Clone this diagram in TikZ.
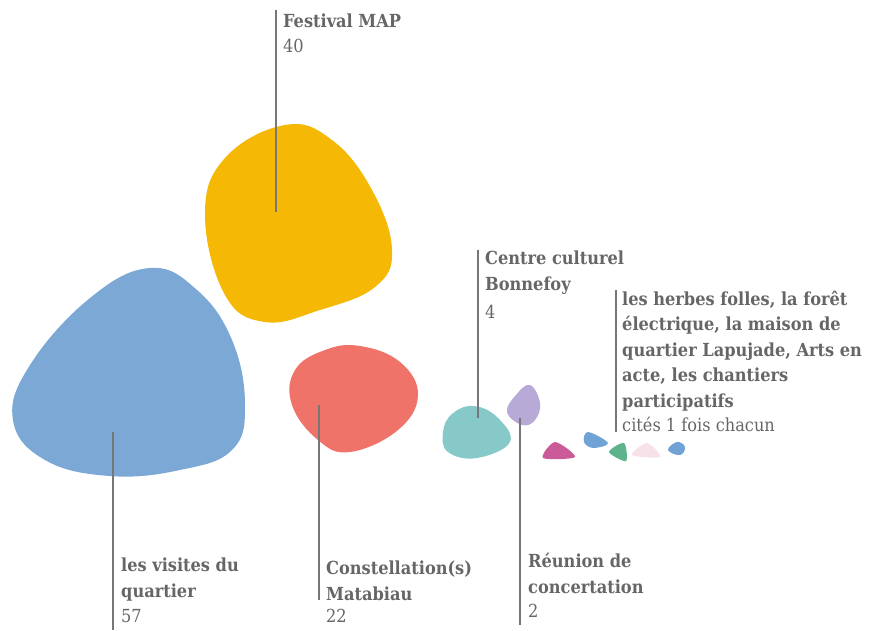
\documentclass[tikz,border=0pt]{standalone}
\usepackage{fontspec}
\setmainfont{DejaVu Serif Condensed}
\definecolor{cblue}{HTML}{7BA8D4}
\definecolor{cyellow}{HTML}{F4B805}
\definecolor{cred}{HTML}{F07369}
\definecolor{cteal}{HTML}{86C9C8}
\definecolor{cpurple}{HTML}{B7AAD6}
\definecolor{cmag}{HTML}{CB5B98}
\definecolor{csblue}{HTML}{70A2D6}
\definecolor{cgreen}{HTML}{5DB38B}
\definecolor{cpink}{HTML}{F8E2EA}
\definecolor{ctext}{HTML}{666666}
\definecolor{cline}{HTML}{777777}
\tikzset{
  blob/.style={draw=none},
  lead/.style={draw=cline, line width=2pt},
  ttl/.style={anchor=base west, inner sep=0pt, text=ctext, font=\fontsize{18}{25.5}\selectfont\bfseries, align=left},
  num/.style={anchor=base west, inner sep=0pt, text=ctext, font=\fontsize{18}{25.5}\selectfont}
}
\begin{document}
\begin{tikzpicture}[x=1pt,y=-1pt]
\useasboundingbox (0,0) rectangle (892,630);
% blobs
\fill[cblue] plot[smooth cycle, tension=0.7] coordinates {(150,268) (197,290) (232,340) (245,405) (232,450) (180,470) (110,476) (45,460) (13,420) (30,365) (90,298)};
\fill[cyellow] plot[smooth cycle, tension=0.7] coordinates {(285,125) (332,140) (372,190) (392,250) (375,287) (320,310) (265,322) (225,295) (205,215) (225,158)};
\fill[cred] plot[smooth cycle, tension=0.7] coordinates {(360,346) (400,362) (418,395) (398,430) (350,452) (318,440) (292,405) (295,370) (325,350)};
\fill[cteal] plot[smooth cycle, tension=0.7] coordinates {(473,406) (497,417) (510,442) (477,458) (448,452) (443,432) (452,414)};
\fill[cpurple] plot[smooth cycle, tension=0.7] coordinates {(530,385) (540,403) (535,420) (522,425) (507,412) (516,395)};
\fill[cmag] plot[smooth cycle, tension=0.5] coordinates {(555,442) (575,457) (543,458)};
\fill[csblue] plot[smooth cycle, tension=0.6] coordinates {(588,432) (608,443) (593,448) (584,442)};
\fill[cgreen] plot[smooth cycle, tension=0.5] coordinates {(624,443) (626,461) (609,452)};
\fill[cpink] plot[smooth cycle, tension=0.5] coordinates {(647,443) (660,457) (632,455)};
\fill[csblue] plot[smooth cycle, tension=0.7] coordinates {(677,442) (685,447) (680,455) (668,450)};
% lead lines
\coordinate (f1) at (276,10);  \coordinate (f2) at (276,212);
\coordinate (v1) at (113,432); \coordinate (v2) at (113,630);
\coordinate (c1) at (319,405); \coordinate (c2) at (319,600);
\coordinate (b1) at (478,250); \coordinate (b2) at (478,418);
\coordinate (r1) at (520,418); \coordinate (r2) at (520,625);
\coordinate (h1) at (616,290); \coordinate (h2) at (616,432);
\draw[lead] (f1) -- (f2);
\draw[lead] (v1) -- (v2);
\draw[lead] (c1) -- (c2);
\draw[lead] (b1) -- (b2);
\draw[lead] (r1) -- (r2);
\draw[lead] (h1) -- (h2);
% labels (anchored at the baseline of their last line)
\node[ttl] (tf) at (283,27) {Festival MAP};
\node[num] (nf) at (283,52) {40};
\node[ttl] (tv) at (121,597) {les visites du\\quartier};
\node[num] (nv) at (121,622) {57};
\node[ttl] (tc) at (326,600) {Constellation(s)\\Matabiau};
\node[num] (nc) at (326,622) {22};
\node[ttl] (tb) at (485,290) {Centre culturel\\Bonnefoy};
\node[num] (nb) at (485,318) {4};
\node[ttl] (tr) at (528,593) {Réunion de\\concertation};
\node[num] (nr) at (528,617) {2};
\node[ttl] (th) at (622,407) {les herbes folles, la forêt\\électrique, la maison de\\quartier Lapujade, Arts en\\acte, les chantiers\\participatifs};
\node[num] (nh) at (622,431) {cités 1 fois chacun};
\end{tikzpicture}
\end{document}
